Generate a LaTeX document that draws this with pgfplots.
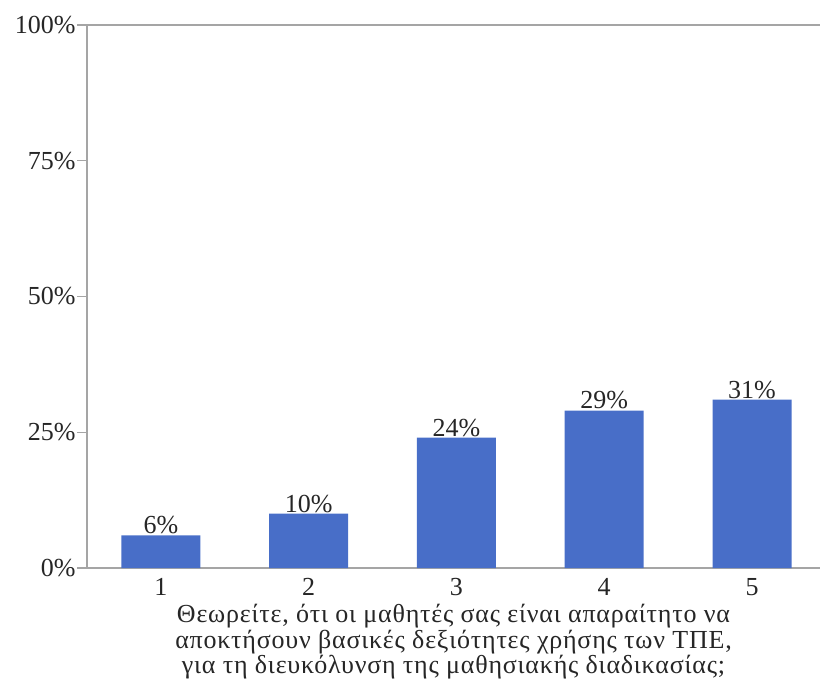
\documentclass[border=0pt]{standalone}
\usepackage{fontspec}
\setmainfont{Liberation Serif}
\usepackage{pgfplots}
\pgfplotsset{compat=1.18}

\definecolor{barblue}{RGB}{72,110,200}
\definecolor{axisgray}{RGB}{165,165,165}

\begin{document}
\begin{tikzpicture}[font=\fontsize{26}{26}\selectfont]
\path[use as bounding box] (-87pt,-123pt) rectangle (733pt,568pt);
\begin{axis}[
    at={(0,0)}, anchor=south west,
    scale only axis,
    width=733pt, height=543pt,
    xmin=0.5, xmax=5.46,
    ymin=0, ymax=100,
    axis y line*=left,
    axis x line*=box,
    axis line style={axisgray, line width=1.4pt},
    xtick={1,2,3,4,5},
    ytick={0,25,50,75,100},
    xtick style={draw=none},
    ytick style={axisgray, line width=1.4pt},
    ytick align=outside,
    major tick length=10pt,
    yticklabel={\pgfmathprintnumber{\tick}\%},
    /pgf/number format/assume math mode=true,
    tick label style={text=black!85},
    yticklabel style={xshift=2pt},
    xticklabel style={inner sep=1pt, yshift=1pt},
    xlabel={Θεωρείτε, ότι οι μαθητές σας είναι απαραίτητο να\\
            αποκτήσουν βασικές δεξιότητες χρήσης των ΤΠΕ,\\
            για τη διευκόλυνση της μαθησιακής διαδικασίας;},
    xlabel style={at={(rel axis cs:0.5,0)}, anchor=north, yshift=-36pt,
                  inner sep=0pt, align=center, text=black!85,
                  font=\fontsize{26}{25.5}\selectfont\addfontfeature{LetterSpace=3}},
    ybar, bar width=79pt,
    nodes near coords={\pgfmathprintnumber{\pgfplotspointmeta}\%},
    every node near coord/.append style={inner sep=1pt, text=black!85},
]
\addplot[fill=barblue, draw=none] coordinates {
    (1,6) (2,10) (3,24) (4,29) (5,31)
};
\end{axis}
\end{tikzpicture}
\end{document}
